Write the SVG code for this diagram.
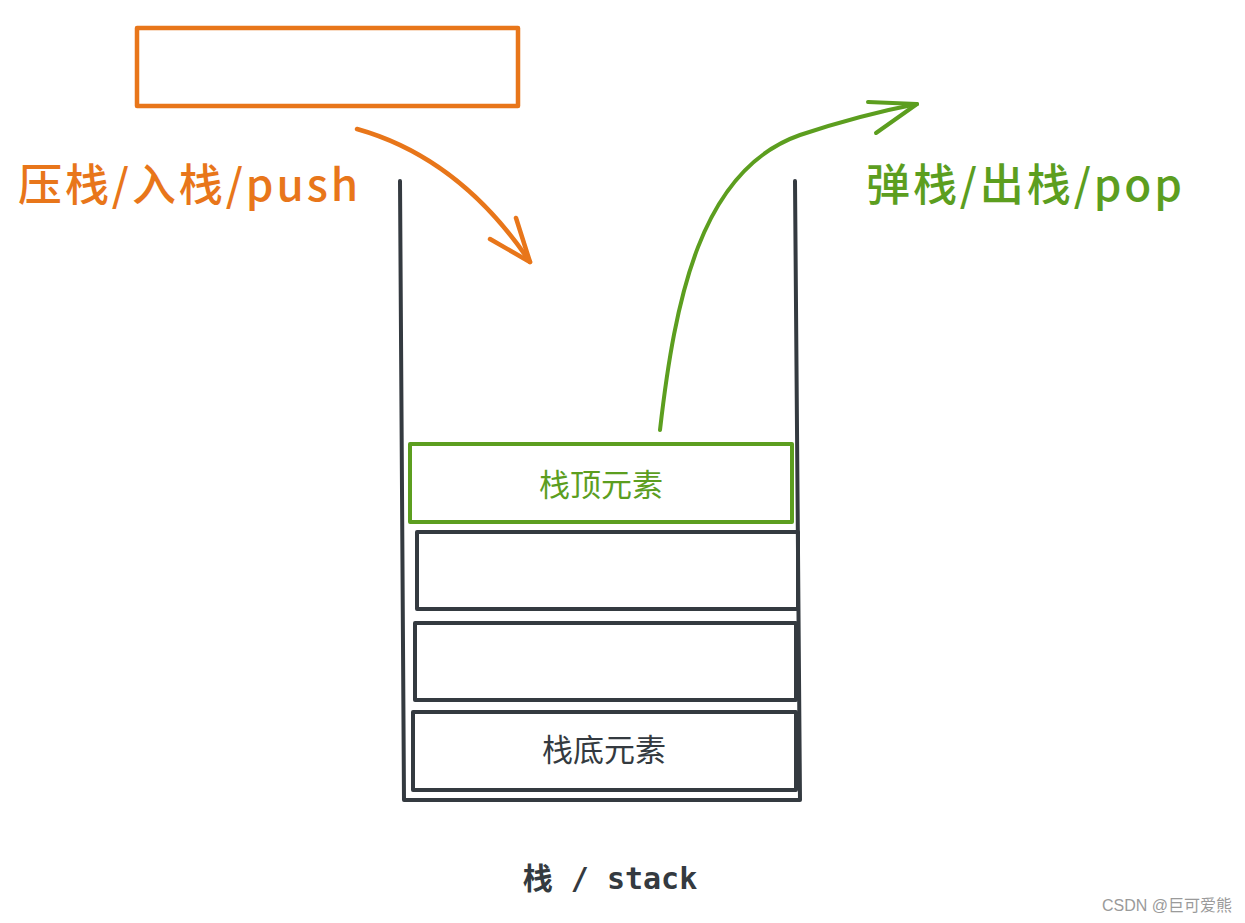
<svg xmlns="http://www.w3.org/2000/svg" width="1245" height="923" viewBox="0 0 1245 923">
<style>
.orange{stroke:#e8761a;fill:none;stroke-width:4.5;stroke-linecap:round;stroke-linejoin:round}
.green{stroke:#5c9e1f;fill:none;stroke-width:4;stroke-linecap:round;stroke-linejoin:round}
.dark{stroke:#343a40;fill:none;stroke-width:4;stroke-linecap:round;stroke-linejoin:round}
.cjk{font-family:"Noto Sans CJK SC","Noto Sans",sans-serif}
.big{font-size:44px;font-weight:500}
</style>
<rect width="1245" height="923" fill="#ffffff"/>
<g id="push-box">
<rect class="orange" x="137" y="28" width="381" height="78"/>
</g>
<g id="push-label">
<text class="cjk big" x="18" y="201" fill="#e8761a" textLength="340" lengthAdjust="spacing">压栈/入栈/push</text>
</g>
<g id="pop-label">
<text class="cjk big" x="866" y="201" fill="#5c9e1f" textLength="316" lengthAdjust="spacing">弹栈/出栈/pop</text>
</g>
<g id="stack">
<path class="dark" d="M400 181 L404 800 L800 800 L795 181"/>
</g>
<g id="top-element">
<rect class="green" x="410" y="444" width="382" height="78"/>
<text class="cjk" x="601" y="496" font-size="31" fill="#5c9e1f" text-anchor="middle">栈顶元素</text>
</g>
<g id="element-2">
<rect class="dark" x="417" y="532" width="381" height="77"/>
</g>
<g id="element-3">
<rect class="dark" x="415" y="623" width="381" height="77"/>
</g>
<g id="bottom-element">
<rect class="dark" x="413" y="712" width="383" height="78"/>
<text class="cjk" x="604" y="761" font-size="31" fill="#343a40" text-anchor="middle">栈底元素</text>
</g>
<g id="connectors">
<path class="orange" d="M357 129 Q 460 158 530 262"/>
<path class="orange" d="M490 239 L530 262 L516 218"/>
<path class="green" d="M660 430 C 675 300 700 170 800 135 Q 860 115 917 104"/>
<path class="green" d="M868 102 L917 104 L876 133"/>
</g>
<g id="caption">
<text x="610" y="889" font-size="30" font-weight="bold" fill="#343a40" text-anchor="middle" font-family="'DejaVu Sans Mono','Noto Sans CJK SC',monospace">栈 / stack</text>
</g>
<text x="1232" y="911" font-size="16" fill="#9a9a9a" text-anchor="end" font-family="'Liberation Sans','Noto Sans CJK SC',sans-serif">CSDN @巨可爱熊</text>
</svg>
